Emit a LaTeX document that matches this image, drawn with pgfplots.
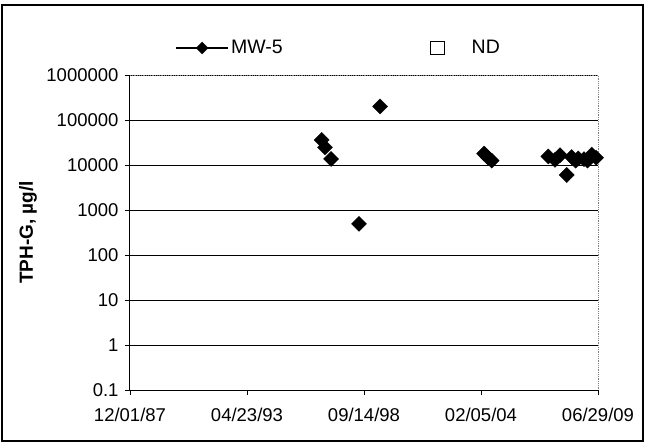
\documentclass[border=0pt]{standalone}
\usepackage{pgfplots}
\pgfplotsset{compat=1.18}
\usepackage{pgfplotstable}
\usepackage{fontspec}
\setmainfont{Liberation Sans}

% x = days since 12/01/87
\pgfplotstableread{
x y
3226 36000
3282 24700
3383 13600
3854 490
4208 200000
5958 18000
6017 15000
6087 12500
7040 15500
7153 13000
7237 16500
7350 6000
7432 15000
7500 12500
7545 14000
7641 13500
7700 12500
7771 17000
7843 14500
}\mwfive

\begin{document}
\begin{tikzpicture}
\begin{axis}[
  width=468bp, height=315bp, scale only axis,
  at={(0,0)}, anchor=south west,
  ymode=log,
  xmin=0, xmax=7876,
  ymin=0.1, ymax=1000000,
  xtick={0,1969,3938,5907,7876},
  xticklabels={12/01/87,04/23/93,09/14/98,02/05/04,06/29/09},
  ytick={0.1,1,10,100,1000,10000,100000,1000000},
  yticklabels={0.1,1,10,100,1000,10000,100000,1000000},
  yminorticks=false,
  tick align=outside, xtick pos=bottom, ytick pos=left,
  major tick length=5bp,
  tick style={black, line width=0.8bp},
  ymajorgrids, major grid style={black, line width=0.8bp},
  axis line style={draw=none},
  ticklabel style={font=\fontsize{18.5bp}{21bp}\selectfont},
  xticklabel style={yshift=-10bp},
  yticklabel style={xshift=-3bp},
  ylabel={\textbf{TPH-G, µg/l}},
  every axis y label/.style={at={(axis description cs:-0.218,0.5)}, rotate=90, anchor=center, font=\fontsize{19bp}{22bp}\selectfont},
  legend image code/.code={\draw[mark repeat=2,mark phase=2,#1] plot coordinates {(0bp,0bp)(26bp,0bp)(52bp,0bp)};},
  legend columns=2,
  legend style={draw=none, fill=none, at={(axis description cs:0.096,1.086)}, anchor=west, inner xsep=0pt,
    font=\fontsize{19.5bp}{23bp}\selectfont,
    /tikz/every even column/.append style={column sep=128bp}},
  clip=false,
]
\draw[black, line width=1bp] (rel axis cs:0,1) -- (rel axis cs:0,0) -- (rel axis cs:1,0);
\draw[gray, line width=0.8bp, densely dotted] (rel axis cs:0,1) -- (rel axis cs:1,1) -- (rel axis cs:1,0);
\addlegendimage{black, line width=2bp, mark=square*, mark options={rotate=45, solid, fill=black}, mark size=3.4bp}
\addlegendentry{MW-5}
\addlegendimage{legend image code/.code={\path[draw=none, fill=none] (0bp,0bp) -- (57bp,0bp); \draw[black, line width=1.4bp, fill=white] (18bp,-6.5bp) rectangle (32bp,6.5bp);}}
\addlegendentry{ND}
\addplot[forget plot, only marks, mark=square*, mark size=5.3bp, mark options={rotate=45, black, fill=black}] table[x=x, y=y] {\mwfive};
\end{axis}
\pgfresetboundingbox
\path[use as bounding box] (-130bp,-54bp) rectangle (518bp,390bp);
\draw[black, line width=1.2bp] (-128bp,-51bp) rectangle (513bp,385bp);
\end{tikzpicture}
\end{document}
